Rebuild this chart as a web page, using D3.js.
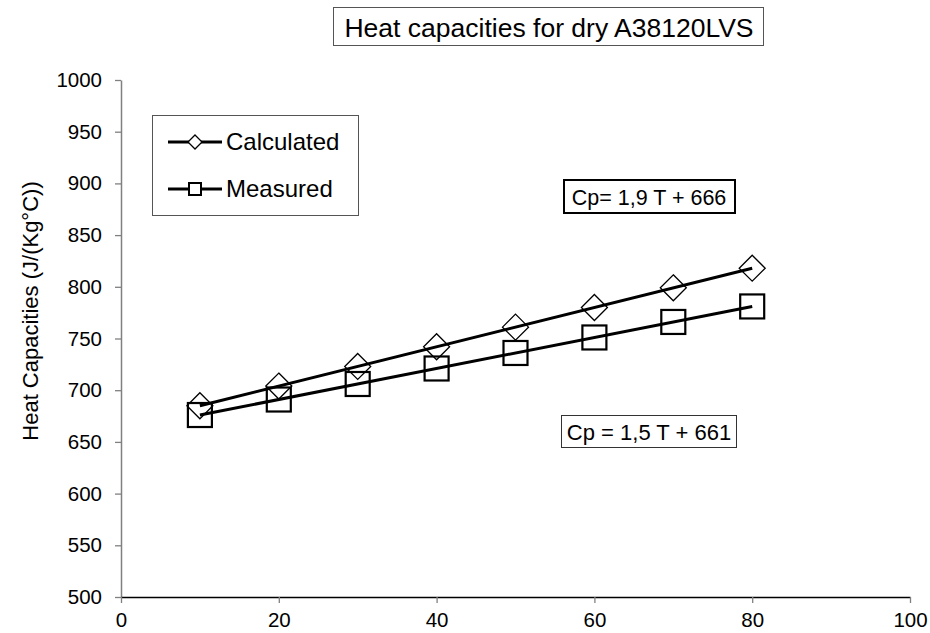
<!DOCTYPE html>
<html>
<head>
<meta charset="utf-8">
<script src="https://cdn.jsdelivr.net/npm/d3@7"></script>
<style>
  body { margin: 0; background: #fff; }
  svg { font-family: "Liberation Sans", Arial, sans-serif; }
</style>
</head>
<body>
<svg id="chart" width="930" height="633"></svg>
<script>
// temperatures (°C)
const temps = [10, 20, 30, 40, 50, 60, 70, 80];
// heat capacities
const calculated = [685, 704, 723, 742, 761, 780, 799, 818];
const measured = [676, 691, 706, 721, 736, 751, 766, 781];
// trend line coefficients [slope, intercept]
const calcFit = [1.9, 666];
const measFit = [1.5, 661];
const xTicks = [0, 20, 40, 60, 80, 100];
const yTicks = [500, 550, 600, 650, 700, 750, 800, 850, 900, 950, 1000];
const seriesNames = ["Calculated", "Measured"];
const equations = ["Cp= 1,9 T + 666", "Cp = 1,5 T + 661"];

const svg = d3.select("#chart");
const x = d3.scaleLinear().domain([0, 100]).range([121, 910]);
const y = d3.scaleLinear().domain([500, 1000]).range([597, 80]);

// y axis
const yAxis = svg.append("g")
  .attr("transform", "translate(121,0)")
  .call(d3.axisLeft(y).tickValues(yTicks).tickFormat(d3.format("d"))
    .tickSize(6).tickSizeOuter(0).tickPadding(13));
yAxis.select(".domain").attr("stroke", "#808080").attr("stroke-width", 1.5);
yAxis.selectAll(".tick line").attr("stroke", "#808080").attr("stroke-width", 1.3);
yAxis.selectAll("text").attr("font-size", 20.5).attr("fill", "#000")
  .attr("font-family", "Liberation Sans, Arial, sans-serif");

// x axis
const xAxis = svg.append("g")
  .attr("transform", "translate(0,597)")
  .call(d3.axisBottom(x).tickValues(xTicks).tickSize(6).tickSizeOuter(0).tickPadding(9));
xAxis.select(".domain").attr("stroke", "#000").attr("stroke-width", 1.5);
xAxis.selectAll(".tick line").attr("stroke", "#808080").attr("stroke-width", 1.3);
xAxis.selectAll("text").attr("font-size", 20.5).attr("fill", "#000")
  .attr("font-family", "Liberation Sans, Arial, sans-serif");

// y label
svg.append("text")
  .attr("transform", "translate(38,311) rotate(-90)")
  .attr("text-anchor", "middle")
  .attr("font-size", 22)
  .text("Heat Capacities (J/(Kg°C))");

// trend lines
const line = d3.line().x((d) => x(d[0])).y((d) => y(d[1]));
[calcFit, measFit].forEach((f) => {
  const t0 = d3.min(temps), t1 = d3.max(temps);
  svg.append("path")
    .attr("d", line([[t0, f[0] * t0 + f[1]], [t1, f[0] * t1 + f[1]]]))
    .attr("fill", "none")
    .attr("stroke", "#000")
    .attr("stroke-width", 3);
});

// markers
const diamond = (s) => `M0,${-s}L${s},0L0,${s}L${-s},0Z`;
svg.selectAll(".calc")
  .data(temps.map((t, i) => [t, calculated[i]]))
  .join("path")
  .attr("transform", (d) => `translate(${x(d[0])},${y(d[1])})`)
  .attr("d", diamond(13))
  .attr("fill", "none")
  .attr("stroke", "#000")
  .attr("stroke-width", 1.3);

svg.selectAll(".meas")
  .data(temps.map((t, i) => [t, measured[i]]))
  .join("rect")
  .attr("x", (d) => x(d[0]) - 12)
  .attr("y", (d) => y(d[1]) - 12)
  .attr("width", 24)
  .attr("height", 24)
  .attr("fill", "none")
  .attr("stroke", "#000")
  .attr("stroke-width", 2.2);

// legend
const legend = svg.append("g");
legend.append("rect")
  .attr("x", 152.5).attr("y", 115.5).attr("width", 206).attr("height", 100)
  .attr("fill", "none").attr("stroke", "#555").attr("stroke-width", 1);
seriesNames.forEach((name, i) => {
  const ly = 142 + i * 47;
  legend.append("line")
    .attr("x1", 168).attr("x2", 222).attr("y1", ly).attr("y2", ly)
    .attr("stroke", "#000").attr("stroke-width", 3);
  if (i === 0) {
    legend.append("path")
      .attr("transform", `translate(195,${ly})`)
      .attr("d", diamond(7))
      .attr("fill", "#fff").attr("stroke", "#000").attr("stroke-width", 1.3);
  } else {
    legend.append("rect")
      .attr("x", 189).attr("y", ly - 6).attr("width", 12).attr("height", 12)
      .attr("fill", "#fff").attr("stroke", "#000").attr("stroke-width", 2);
  }
  legend.append("text")
    .attr("x", 226).attr("y", ly + 8)
    .attr("font-size", 24)
    .text(name);
});

// title
svg.append("rect")
  .attr("x", 333.5).attr("y", 7.5).attr("width", 430).attr("height", 38)
  .attr("fill", "none").attr("stroke", "#555").attr("stroke-width", 1);
svg.append("text")
  .attr("x", 549).attr("y", 37)
  .attr("text-anchor", "middle")
  .attr("font-size", 26.5)
  .text("Heat capacities for dry A38120LVS");

// equation boxes
svg.append("rect")
  .attr("x", 564).attr("y", 180).attr("width", 171).attr("height", 33)
  .attr("fill", "#fff").attr("stroke", "#000").attr("stroke-width", 2);
svg.append("text")
  .attr("x", 649).attr("y", 205)
  .attr("text-anchor", "middle")
  .attr("font-size", 21.5)
  .text(equations[0]);

svg.append("rect")
  .attr("x", 561.5).attr("y", 415.5).attr("width", 175).attr("height", 32)
  .attr("fill", "#fff").attr("stroke", "#333").attr("stroke-width", 1);
svg.append("text")
  .attr("x", 649).attr("y", 440)
  .attr("text-anchor", "middle")
  .attr("font-size", 22)
  .text(equations[1]);
</script>
</body>
</html>
